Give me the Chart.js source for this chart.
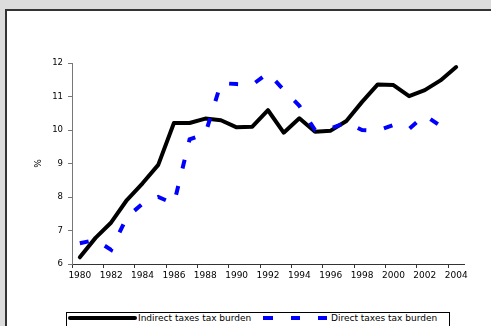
<!DOCTYPE html>
<html>
<head>
<meta charset="utf-8">
<script src="https://cdn.jsdelivr.net/npm/chart.js@4.4.1/dist/chart.umd.min.js"></script>
<style>
  html, body { margin: 0; padding: 0; width: 491px; height: 326px; overflow: hidden; background: #dcdcdc; }
  #panel { position: absolute; left: 5px; top: 9px; width: 500px; height: 330px; background: #fff;
           border-top: 2px solid #333; border-left: 2px solid #333; }
  #c { position: absolute; left: 0; top: 0; }
  .lg { position: absolute; font-family: "DejaVu Sans", sans-serif; font-size: 9px; line-height: 10px; color: #000; white-space: nowrap; }
  .sw { position: absolute; height: 4px; }
</style>
</head>
<body>
<div id="panel"></div>
<canvas id="c" width="491" height="326"></canvas>
<div id="legendBox" style="position:absolute;left:66px;top:312px;width:382px;height:20px;border:1px solid #000;background:#fff;"></div>
<div class="sw" style="left:68px;top:316px;width:69px;background:#000;border-radius:2px;"></div>
<div class="lg" id="lg1" style="left:138px;top:313px;"></div>
<div class="sw" style="left:263px;top:316px;width:10px;background:#0000ff;"></div>
<div class="sw" style="left:291px;top:316px;width:9px;background:#0000ff;"></div>
<div class="sw" style="left:318px;top:316px;width:9px;background:#0000ff;"></div>
<div class="lg" id="lg2" style="left:331px;top:313px;"></div>
<script>
const years = ["1980","1981","1982","1983","1984","1985","1986","1987","1988","1989","1990","1991","1992","1993","1994","1995","1996","1997","1998","1999","2000","2001","2002","2003","2004"];
const indirectTaxes = [6.2,6.78,7.24,7.91,8.41,8.96,10.21,10.21,10.34,10.29,10.08,10.1,10.59,9.92,10.35,9.95,9.98,10.27,10.84,11.36,11.34,11.01,11.19,11.48,11.88];
const directTaxes = [6.62,6.72,6.42,7.4,7.8,8.0,7.8,9.72,9.88,11.4,11.37,11.35,11.7,11.2,10.72,10.0,10.05,10.22,10.0,9.98,10.15,10.03,10.44,10.12,null];
const seriesNames = ["Indirect taxes tax burden", "Direct taxes tax burden"];
const yTicks = { min: 6, max: 12, step: 1 };
const yTitle = "%";

document.getElementById('lg1').textContent = seriesNames[0];
document.getElementById('lg2').textContent = seriesNames[1];

const FONT = "'DejaVu Sans', sans-serif";

new Chart(document.getElementById('c'), {
  type: 'line',
  data: {
    labels: years,
    datasets: [
      { label: seriesNames[0], data: indirectTaxes, borderColor: '#000', borderWidth: 4,
        pointRadius: 0, tension: 0, borderJoinStyle: 'round', borderCapStyle: 'round', order: 1, fill: false },
      { label: seriesNames[1], data: directTaxes, borderColor: '#0000ff', borderWidth: 4,
        pointRadius: 0, tension: 0, borderDash: [9, 18], borderCapStyle: 'butt', order: 0, fill: false, spanGaps: false }
    ]
  },
  options: {
    responsive: false,
    animation: false,
    events: [],
    layout: { padding: { left: 0, top: 63, right: 27, bottom: 0 } },
    plugins: { legend: { display: false }, tooltip: { enabled: false }, title: { display: false } },
    scales: {
      x: {
        type: 'category',
        offset: true,
        afterFit: s => { s.height = 62; },
        grid: {
          display: true, offset: true, drawOnChartArea: false, drawTicks: true, tickLength: 4,
          color: ctx => (ctx.index % 2 === 0 ? '#333' : 'rgba(0,0,0,0)')
        },
        border: { display: true, color: '#333', width: 1 },
        ticks: {
          autoSkip: false, maxRotation: 0, minRotation: 0, padding: 2, color: '#000',
          font: { family: FONT, size: 9 },
          callback: function(v, i) { return i % 2 === 0 ? years[i] : ''; }
        }
      },
      y: {
        min: yTicks.min, max: yTicks.max,
        afterFit: s => { s.width = 72; },
        grid: { display: true, drawOnChartArea: false, drawTicks: true, tickLength: 4, color: '#777' },
        border: { display: true, color: '#777', width: 1 },
        ticks: { stepSize: yTicks.step, padding: 5, color: '#000', font: { family: FONT, size: 8.5 } },
        title: { display: true, text: yTitle, color: '#000', font: { family: FONT, size: 9 }, padding: { top: 33, bottom: 0 } }
      }
    }
  }
});
</script>
</body>
</html>
